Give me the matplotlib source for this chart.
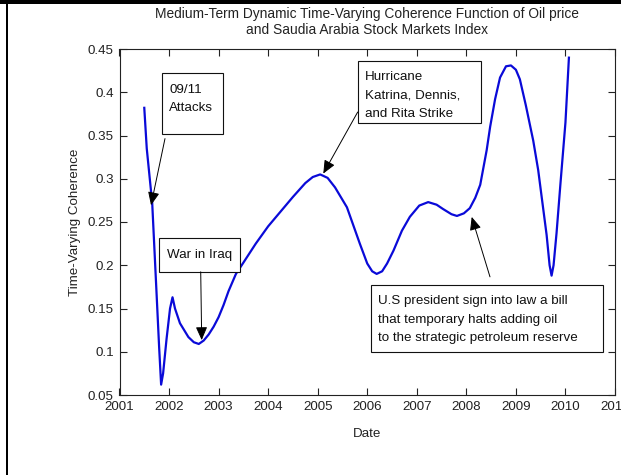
import matplotlib
matplotlib.use("Agg")
import matplotlib.pyplot as plt
from matplotlib.patches import Rectangle
from matplotlib.ticker import FixedLocator, FixedFormatter

plt.rcParams['font.family'] = ['Liberation Sans', 'DejaVu Sans']
plt.rcParams['font.size'] = 9.6

# medium-term coherence, oil price vs Saudi stock index
years = [2001.50, 2001.55, 2001.66, 2001.75, 2001.80, 2001.84, 2001.88, 2001.95,
         2002.02, 2002.07, 2002.12, 2002.22, 2002.39, 2002.50, 2002.60, 2002.70,
         2002.80, 2002.90, 2003.00, 2003.10, 2003.20, 2003.35, 2003.50, 2003.75,
         2004.00, 2004.25, 2004.50, 2004.75, 2004.90, 2005.05, 2005.20, 2005.35,
         2005.59, 2005.85, 2006.00, 2006.10, 2006.19, 2006.30, 2006.40, 2006.53,
         2006.70, 2006.86, 2007.05, 2007.23, 2007.40, 2007.53, 2007.70, 2007.81,
         2007.95, 2008.07, 2008.18, 2008.28, 2008.41, 2008.48, 2008.58, 2008.68,
         2008.80, 2008.90, 2009.00, 2009.08, 2009.20, 2009.35, 2009.45, 2009.52,
         2009.62, 2009.68, 2009.72, 2009.76, 2009.82, 2009.90, 2010.00, 2010.07]
coherence = [0.382, 0.335, 0.272, 0.165, 0.105, 0.062, 0.075, 0.115,
             0.150, 0.163, 0.150, 0.133, 0.117, 0.111, 0.109, 0.113,
             0.120, 0.129, 0.140, 0.154, 0.170, 0.190, 0.203, 0.225,
             0.245, 0.262, 0.279, 0.295, 0.302, 0.305, 0.301, 0.290,
             0.267, 0.225, 0.202, 0.193, 0.190, 0.193, 0.202, 0.217,
             0.240, 0.256, 0.269, 0.273, 0.270, 0.265, 0.259, 0.257,
             0.260, 0.266, 0.278, 0.293, 0.333, 0.360, 0.392, 0.417,
             0.430, 0.431, 0.426, 0.415, 0.385, 0.344, 0.310, 0.279,
             0.235, 0.200, 0.188, 0.200, 0.237, 0.295, 0.365, 0.440]

xticks = list(range(2001, 2012))
xtick_labels = [str(y) for y in xticks]
yticks = [0.05, 0.10, 0.15, 0.20, 0.25, 0.30, 0.35, 0.40, 0.45]
ytick_labels = ['0.05', '0.1', '0.15', '0.2', '0.25', '0.3', '0.35', '0.4', '0.45']

# event notes: text, box (x0, y0, x1, y1), text anchor, alignment, arrow tail, arrow tip
note_text = ['09/11\nAttacks',
             'Hurricane\nKatrina, Dennis,\nand Rita Strike',
             'War in Iraq',
             'U.S president sign into law a bill\nthat temporary halts adding oil\nto the strategic petroleum reserve']
note_box = [(2001.864, 0.3522, 2003.095, 0.4222),
            (2005.807, 0.365, 2008.290, 0.436),
            (2001.797, 0.192, 2003.432, 0.2313),
            (2006.075, 0.100, 2010.750, 0.177)]
note_xy = [(2002.005, 0.392), (2005.960, 0.396), (2002.615, 0.2117), (2006.227, 0.1370)]
note_ha = ['left', 'left', 'center', 'left']
arrow_tail = [(2001.918, 0.3464), (2005.807, 0.3771), (2002.639, 0.1924), (2008.477, 0.1866)]
arrow_tip = [(2001.636, 0.2694), (2005.113, 0.3060), (2002.659, 0.1135), (2008.108, 0.2559)]

fig = plt.figure(figsize=(6.21, 4.75), dpi=100)
ax = fig.add_axes([119.5 / 621, 80 / 475, 495.5 / 621, 346 / 475])

ax.plot(years, coherence, color='#0a0ad8', lw=1.6, zorder=3)

ax.set_xlim(2001, 2011)
ax.set_ylim(0.05, 0.45)
ax.xaxis.set_major_locator(FixedLocator(xticks))
ax.xaxis.set_major_formatter(FixedFormatter(xtick_labels))
ax.yaxis.set_major_locator(FixedLocator(yticks))
ax.yaxis.set_major_formatter(FixedFormatter(ytick_labels))
ax.tick_params(direction='in', top=True, right=True, length=5, width=0.8,
               color='#222222', labelcolor='#222222', pad=4)
for sp in ax.spines.values():
    sp.set_color('#222222')
    sp.set_linewidth(0.8)

ax.set_xlabel('Date', color='#222222', labelpad=11)
ax.set_ylabel('Time-Varying Coherence', color='#222222', labelpad=5)
ax.set_title('Medium-Term Dynamic Time-Varying Coherence Function of Oil price\n'
             'and Saudia Arabia Stock Markets Index', color='#222222', pad=11,
             fontsize=9.9, linespacing=1.15)

for txt, box, xy, ha, tail, tip in zip(note_text, note_box, note_xy, note_ha,
                                       arrow_tail, arrow_tip):
    ax.add_patch(Rectangle((box[0], box[1]), box[2] - box[0], box[3] - box[1],
                           fc='white', ec='#111111', lw=0.8, zorder=4, clip_on=False))
    ax.text(xy[0], xy[1], txt, ha=ha, va='center', color='#111111',
            linespacing=1.7, zorder=5)
    ax.annotate('', xy=tip, xytext=tail, zorder=6,
                arrowprops=dict(arrowstyle='-|>,head_length=0.8,head_width=0.35',
                                color='black', lw=0.7, shrinkA=0, shrinkB=0,
                                mutation_scale=10))

# page frame
fig.add_artist(Rectangle((0, 1 - 4 / 475), 1, 4 / 475, transform=fig.transFigure,
                         fc='black', ec='none', zorder=10))
fig.add_artist(Rectangle((6 / 621, 0), 2 / 621, 1, transform=fig.transFigure,
                         fc='black', ec='none', zorder=10))

fig.savefig('out.png', dpi=100)
